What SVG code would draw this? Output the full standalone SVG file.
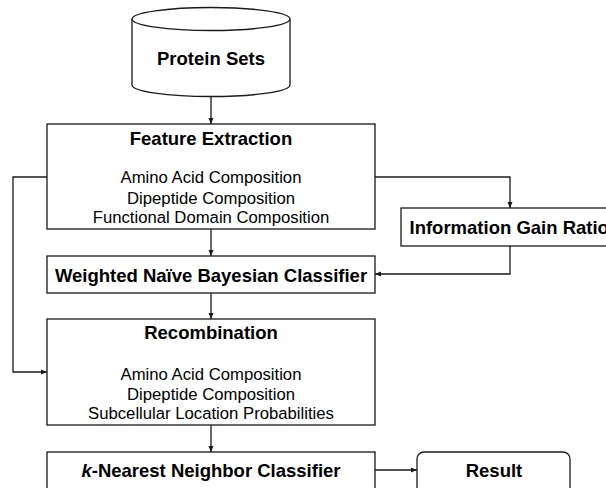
<svg xmlns="http://www.w3.org/2000/svg" width="606" height="488" viewBox="0 0 606 488">
<style>
.box{fill:#fff;stroke:#1a1a1a;stroke-width:1.3}
.t{font-family:"Liberation Sans",Arial,sans-serif;font-weight:bold;font-size:18.5px;fill:#000;text-anchor:middle}
.s{font-family:"Liberation Sans",Arial,sans-serif;font-size:16.7px;fill:#000;text-anchor:middle}
.c{fill:none;stroke:#1a1a1a;stroke-width:1.3}
</style>
<defs>
<marker id="a" markerWidth="6" markerHeight="6" refX="6" refY="3" orient="auto" markerUnits="userSpaceOnUse">
<path d="M0,0.5 L6,3 L0,5.5 Z" fill="#1a1a1a"/>
</marker>
</defs>
<rect width="606" height="488" fill="#fff"/>
<g id="connectors">
<path class="c" d="M211,97 V124" marker-end="url(#a)"/>
<path class="c" d="M211,229 V256" marker-end="url(#a)"/>
<path class="c" d="M211,293 V319" marker-end="url(#a)"/>
<path class="c" d="M211,425 V452" marker-end="url(#a)"/>
<path class="c" d="M375,177 H510 V208" marker-end="url(#a)"/>
<path class="c" d="M510,246 V274 H375" marker-end="url(#a)"/>
<path class="c" d="M47,177 H13 V372 H47" marker-end="url(#a)"/>
<path class="c" d="M375,470 H417" marker-end="url(#a)"/>
</g>
<g id="protein-sets">
<path class="box" d="M132,19 V85 A79,11.5 0 0 0 290,85 V19"/>
<ellipse class="box" cx="211" cy="19" rx="79" ry="11.5"/>
<text class="t" x="211" y="65">Protein Sets</text>
</g>
<g id="feature-extraction">
<rect class="box" x="47" y="124" width="328" height="105"/>
<text class="t" x="211" y="145">Feature Extraction</text>
<text class="s" x="211" y="183">Amino Acid Composition</text>
<text class="s" x="211" y="203.5">Dipeptide Composition</text>
<text class="s" x="211" y="223">Functional Domain Composition</text>
</g>
<g id="info-gain">
<rect class="box" x="401" y="208" width="220" height="38"/>
<text class="t" x="409.5" y="234" style="text-anchor:start">Information Gain Ratio</text>
</g>
<g id="weighted-nb">
<rect class="box" x="47" y="256" width="328" height="37"/>
<text class="t" x="211" y="282">Weighted Naïve Bayesian Classifier</text>
</g>
<g id="recombination">
<rect class="box" x="47" y="319" width="328" height="106"/>
<text class="t" x="211" y="339">Recombination</text>
<text class="s" x="211" y="380">Amino Acid Composition</text>
<text class="s" x="211" y="400">Dipeptide Composition</text>
<text class="s" x="211" y="419">Subcellular Location Probabilities</text>
</g>
<g id="knn">
<rect class="box" x="47" y="452" width="328" height="40"/>
<text class="t" x="211" y="477"><tspan font-style="italic">k</tspan>-Nearest Neighbor Classifier</text>
</g>
<g id="result">
<rect class="box" x="417" y="452" width="153" height="42" rx="7"/>
<text class="t" x="494" y="477">Result</text>
</g>
</svg>
